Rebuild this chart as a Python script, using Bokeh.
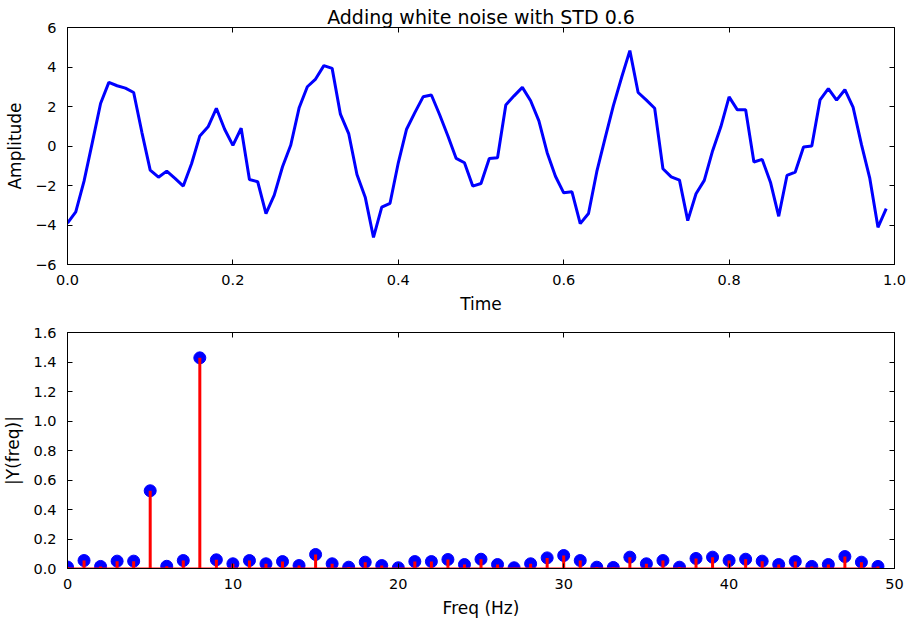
from bokeh.plotting import figure
from bokeh.layouts import column
from bokeh.models import LinearAxis, Range1d, FixedTicker, ColumnDataSource, CustomLabelingPolicy
from bokeh.embed import file_html
from bokeh.resources import INLINE

# ---- data ----
time = [round(i * 0.01, 2) for i in range(100)]
amplitude = [
    -3.90, -3.34, -1.78, 0.17, 2.15, 3.22, 3.05, 2.93, 2.71, 0.68,
    -1.22, -1.58, -1.27, -1.64, -2.03, -0.90, 0.51, 0.97, 1.91, 0.85,
    0.03, 0.90, -1.70, -1.81, -3.42, -2.49, -1.05, 0.05, 1.92, 3.00,
    3.39, 4.07, 3.93, 1.61, 0.63, -1.44, -2.59, -4.63, -3.10, -2.90,
    -0.85, 0.85, 1.69, 2.49, 2.58, 1.58, 0.51, -0.63, -0.85, -2.03,
    -1.90, -0.63, -0.59, 2.08, 2.54, 2.97, 2.29, 1.27, -0.34, -1.53,
    -2.37, -2.32, -3.93, -3.42, -1.30, 0.39, 2.03, 3.47, 4.83, 2.71,
    2.32, 1.91, -1.15, -1.56, -1.73, -3.78, -2.42, -1.74, -0.25, 0.97,
    2.49, 1.83, 1.83, -0.81, -0.68, -1.83, -3.56, -1.49, -1.32, -0.05,
    0.00, 2.34, 2.91, 2.32, 2.85, 1.95, 0.08, -1.61, -4.12, -3.17,
]
freq = list(range(50))
magnitude = [
    0.010, 0.054, 0.014, 0.050, 0.050, 0.527, 0.015, 0.054, 1.428, 0.059,
    0.032, 0.054, 0.032, 0.047, 0.020, 0.095, 0.032, 0.009, 0.043, 0.020,
    0.005, 0.047, 0.047, 0.061, 0.027, 0.063, 0.027, 0.005, 0.032, 0.072,
    0.088, 0.054, 0.009, 0.007, 0.077, 0.032, 0.054, 0.009, 0.068, 0.077,
    0.054, 0.063, 0.050, 0.027, 0.047, 0.014, 0.027, 0.081, 0.043, 0.014,
]
top_xticks = [0.0, 0.2, 0.4, 0.6, 0.8, 1.0]
top_yticks = [-6, -4, -2, 0, 2, 4, 6]
bot_xticks = [0, 10, 20, 30, 40, 50]
bot_yticks = [0.0, 0.2, 0.4, 0.6, 0.8, 1.0, 1.2, 1.4, 1.6]

FONT = "DejaVu Sans"
TICK_SIZE = "14.5px"
LABEL_SIZE = "17px"

HIDE_LABELS = CustomLabelingPolicy(
    code="const a = [...indices]; for (const i of a) indices.unset(i); return indices")


def minus(v, fmt):
    return fmt.format(v).replace("-", "\u2212")


def style(p, xticks, yticks, xfmt, yfmt, xlabel, ylabel):
    p.xgrid.visible = False
    p.ygrid.visible = False
    p.outline_line_color = "black"
    p.outline_line_width = 1
    p.background_fill_color = "white"
    p.border_fill_color = "white"
    for ax, ticks, fmt, lab in ((p.xaxis[0], xticks, xfmt, xlabel), (p.yaxis[0], yticks, yfmt, ylabel)):
        ax.ticker = FixedTicker(ticks=ticks)
        ax.major_label_overrides = {t: minus(t, fmt) for t in ticks}
        ax.major_tick_in = 5
        ax.major_tick_out = 0
        ax.minor_tick_line_color = None
        ax.axis_line_color = "black"
        ax.major_tick_line_color = "black"
        ax.major_label_text_font = FONT
        ax.major_label_text_font_size = TICK_SIZE
        ax.major_label_text_color = "black"
        ax.axis_label = lab
        ax.axis_label_text_font = FONT
        ax.axis_label_text_font_size = LABEL_SIZE
        ax.axis_label_text_font_style = "normal"
        ax.axis_label_text_color = "black"
    p.xaxis[0].major_label_standoff = 10
    p.yaxis[0].major_label_standoff = 11
    p.xaxis[0].axis_label_standoff = 6
    p.yaxis[0].axis_label_standoff = 7
    # mirrored ticks on top and right (no labels)
    for loc, ticks in (("above", xticks), ("right", yticks)):
        ax = LinearAxis(ticker=FixedTicker(ticks=ticks), major_label_policy=HIDE_LABELS)
        ax.major_label_text_font_size = "0px"
        ax.major_label_standoff = 0
        ax.major_tick_in = 5
        ax.major_tick_out = 0
        ax.minor_tick_line_color = None
        ax.axis_line_color = None
        ax.major_tick_line_color = "black"
        p.add_layout(ax, loc)


# ---- top plot ----
p1 = figure(width=906, height=316, output_backend="svg", toolbar_location=None,
            x_range=Range1d(0, 1.0), y_range=Range1d(-6, 6),
            min_border_left=67, min_border_right=12, min_border_top=27, min_border_bottom=47)
p1.title.text = "Adding white noise with STD 0.6"
p1.title.align = "center"
p1.title.text_font = FONT
p1.title.text_font_size = "19px"
p1.title.text_font_style = "normal"
p1.title.text_color = "black"
p1.title.standoff = 0
p1.line(time, amplitude, line_color="#0000ff", line_width=3)
style(p1, top_xticks, top_yticks, "{:.1f}", "{:d}", "Time", "Amplitude")

# ---- bottom plot ----
p2 = figure(width=906, height=304, output_backend="svg", toolbar_location=None,
            x_range=Range1d(0, 50), y_range=Range1d(0, 1.6),
            min_border_left=67, min_border_right=12, min_border_top=16, min_border_bottom=50)
src = ColumnDataSource(dict(f=freq, m=magnitude, z=[0] * len(freq)))
p2.scatter("f", "m", source=src, size=12, fill_color="#0000ff", line_color="#0000ff")
p2.segment(x0="f", y0="z", x1="f", y1="m", source=src, line_color="#ff0000", line_width=3)
p2.line(x=[freq[0], freq[-1]], y=[0, 0], line_color="#ff0000", line_width=2)
style(p2, bot_xticks, bot_yticks, "{:d}", "{:.1f}", "Freq (Hz)", "|Y(freq)|")

layout = column(p1, p2)
open("out.html", "w").write(file_html(layout, INLINE))
